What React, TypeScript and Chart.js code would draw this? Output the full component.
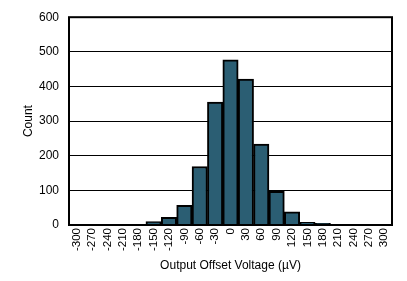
import React, { useEffect, useRef } from "react";
import { Chart, registerables } from "chart.js";

Chart.register(...registerables);

const binLabels = ["-300", "-270", "-240", "-210", "-180", "-150", "-120", "-90", "-60", "-30", "0", "30", "60", "90", "120", "150", "180", "210", "240", "270", "300"];
const counts = [0, 0, 0, 0, 0, 10, 22, 57, 169, 355, 477, 421, 234, 97, 38, 8, 5, 0, 0, 0, 0];
const xTitle = "Output Offset Voltage (\u00b5V)";
const yTitle = "Count";

const frame = {
  id: "frame",
  afterDatasetsDraw(chart: any) {
    const { ctx, chartArea: a } = chart;
    ctx.save();
    ctx.strokeStyle = "#000";
    ctx.lineWidth = 2;
    ctx.strokeRect(a.left, a.top, a.right - a.left, a.bottom - a.top);
    ctx.restore();
  },
};

export default function App() {
  const ref = useRef<HTMLCanvasElement | null>(null);
  useEffect(() => {
    const family = "'Liberation Sans', Arial, Helvetica, sans-serif";
    const small = { family, size: 11.5 };
    const big = { family, size: 12 };
    const chart = new Chart(ref.current!, {
      type: "bar",
      data: {
        labels: binLabels,
        datasets: [
          {
            data: counts,
            backgroundColor: "#2b5e73",
            borderColor: "#000",
            borderWidth: 2,
            barPercentage: 1,
            categoryPercentage: 1,
          },
        ],
      },
      options: {
        animation: false,
        responsive: false,
        layout: { padding: { top: 5, right: 15, left: 0, bottom: 0 } },
        plugins: { legend: { display: false }, tooltip: { enabled: false } },
        scales: {
          x: {
            type: "category",
            offset: true,
            grid: { display: false, drawTicks: false },
            border: { display: false },
            ticks: { color: "#000", font: small, minRotation: 90, maxRotation: 90, padding: 3, autoSkip: false },
            title: { display: true, text: xTitle, color: "#000", font: big, padding: { top: 4, bottom: 8 } },
            afterFit: (s: any) => { s.height = 56; },
          },
          y: {
            min: 0,
            max: 600,
            ticks: { stepSize: 100, color: "#000", font: big, padding: 10 },
            grid: { color: "#000", lineWidth: 1, drawTicks: false },
            border: { display: false },
            title: { display: true, text: yTitle, color: "#000", font: big, padding: { top: 21, bottom: 0 } },
            afterFit: (s: any) => { s.width = 69; },
          },
        },
      },
      plugins: [frame],
    } as any);
    return () => chart.destroy();
  }, []);
  return (
    <div style={{ position: "fixed", left: 0, top: 0, width: 407, height: 281, background: "#fff" }}>
      <canvas ref={ref} width={407} height={281} style={{ display: "block" }} />
    </div>
  );
}
